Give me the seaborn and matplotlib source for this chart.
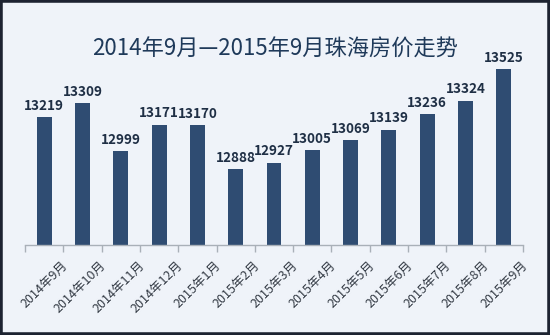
import matplotlib
matplotlib.use("Agg")
import matplotlib.pyplot as plt
import matplotlib.transforms as mtransforms
from matplotlib.patches import Rectangle
import seaborn as sns
import pandas as pd

months = ["2014年9月", "2014年10月", "2014年11月", "2014年12月", "2015年1月", "2015年2月",
          "2015年3月", "2015年4月", "2015年5月", "2015年6月", "2015年7月", "2015年8月", "2015年9月"]
prices = [13219, 13309, 12999, 13171, 13170, 12888, 12927, 13005, 13069, 13139, 13236, 13324, 13525]
title = "2014年9月—2015年9月珠海房价走势"

sns.set_style("white")
plt.rcParams['font.family'] = ['Noto Sans CJK SC', 'DejaVu Sans']

W, H = 550, 335
fig = plt.figure(figsize=(W / 100, H / 100), dpi=100)
bg = "#eff3f9"
fig.patch.set_facecolor(bg)

left, right, bottom_px, top_px = 25, 523, 245, 30
ax = fig.add_axes([left / W, 1 - bottom_px / H, (right - left) / W, (bottom_px - top_px) / H])
ax.set_facecolor("none")

df = pd.DataFrame({"month": months, "price": prices})
bar_color = "#2f4c72"
sns.barplot(data=df, x="month", y="price", color=bar_color, width=0.39,
            saturation=1, ax=ax, edgecolor="none")

ax.set_ylim(12400, 13776)
ax.set_xlim(-0.5, len(months) - 0.5)
ax.set_xlabel("")
ax.set_ylabel("")
ax.set_yticks([])
for s in ["top", "right", "left"]:
    ax.spines[s].set_visible(False)
ax.spines["bottom"].set_color("#a9b0b8")
ax.spines["bottom"].set_linewidth(1.0)

# value labels
for i, v in enumerate(prices):
    ax.annotate(f"{v}", (i, v), xytext=(0, 3), textcoords="offset points",
                ha="center", va="bottom", fontsize=9.7, fontweight="bold",
                color="#1f2f45")

# tick marks at category boundaries
ax.set_xticks([i - 0.5 for i in range(len(months) + 1)], minor=True)
ax.tick_params(axis="x", which="minor", bottom=True, length=5, color="#a9b0b8",
               width=1, direction="out")
ax.set_xticks(range(len(months)))
ax.set_xticklabels(months, rotation=45, ha="right", rotation_mode="anchor",
                   fontsize=9, color="#333a44")
ax.tick_params(axis="x", which="major", bottom=False, length=0, pad=10)
offset = mtransforms.ScaledTranslation(17 / 100, 0, fig.dpi_scale_trans)
for lab in ax.get_xticklabels():
    lab.set_transform(lab.get_transform() + offset)

fig.text(0.5, 1 - 49 / H, title, ha="center", va="center", fontsize=16,
         color="#1f3a5a")

fig.patches.append(Rectangle((0, 0), 1, 1, transform=fig.transFigure, fill=False,
                             edgecolor="#1d2331", linewidth=4, zorder=10))

fig.savefig("out.png", dpi=100, facecolor=bg)
